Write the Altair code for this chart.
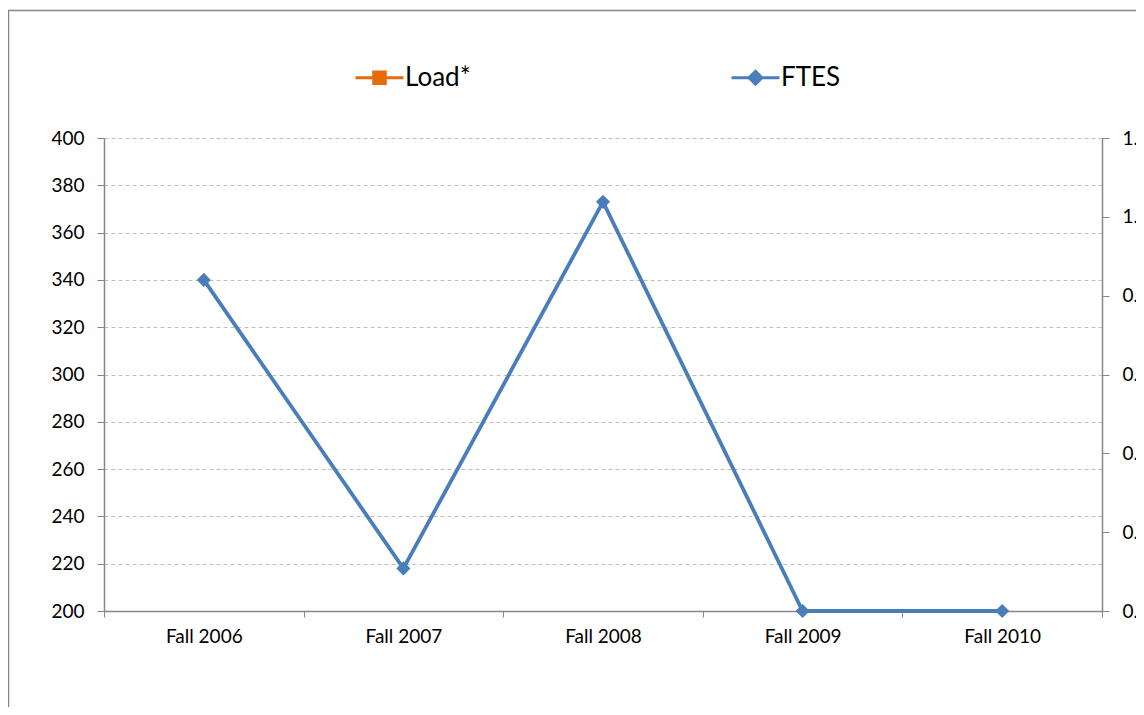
import altair as alt
import pandas as pd

periods = ["Fall 2006", "Fall 2007", "Fall 2008", "Fall 2009", "Fall 2010"]
ftes = [340, 218, 373, 200, 200]
load = [None, None, None, None, None]
series_names = ["Load*", "FTES"]
series_colors = ["#E46C0A", "#4A7EBB"]
left_ticks = [200, 220, 240, 260, 280, 300, 320, 340, 360, 380, 400]
right_ticks = [0.0, 0.2, 0.4, 0.6, 0.8, 1.0, 1.2]

ftes_df = pd.DataFrame({"period": periods, "series": ["FTES"] * 5, "value": ftes})
load_df = pd.DataFrame({"period": periods, "series": ["Load*"] * 5, "value": load})
legend_df = pd.DataFrame({"series": series_names})
frame_df = pd.DataFrame({"k": [0]})

FONT = "Lato"
GRAY = "#868686"

load_path = "M-1,0L1,0M-0.24,-0.24L0.24,-0.24L0.24,0.24L-0.24,0.24Z"
ftes_path = "M-1,0L1,0M0,-0.27L0.27,0L0,0.27L-0.27,0Z"

x_enc = alt.X(
    "period:N",
    sort=periods,
    scale=alt.Scale(type="band", paddingInner=0, paddingOuter=0),
    axis=alt.Axis(
        title=None, labelAngle=0, tickBand="extent", tickSize=6, labelPadding=10,
        labelFontSize=19, labelFont=FONT, labelColor="black",
        domainColor=GRAY, domainWidth=1.5, tickColor=GRAY, tickWidth=1, grid=False,
    ),
)

left_scale = alt.Scale(domain=[200, 400], nice=False, zero=False)

left_line = alt.Chart(ftes_df).mark_line(strokeWidth=3.8, color=series_colors[1]).encode(
    x=x_enc,
    y=alt.Y(
        "value:Q",
        scale=left_scale,
        axis=alt.Axis(
            title=None, orient="left", values=left_ticks, tickSize=7, labelPadding=13,
            labelFontSize=19, labelFont=FONT, labelColor="black",
            domainColor=GRAY, domainWidth=1.5, tickColor=GRAY,
            grid=True, gridDash=[4, 3], gridColor="#C0C0C0", gridWidth=1,
        ),
    ),
)

left_points = alt.Chart(ftes_df).mark_point(
    filled=True, shape="diamond", size=200, opacity=1, color=series_colors[1]
).encode(
    x=x_enc,
    y=alt.Y("value:Q", scale=left_scale, axis=None),
)

legend_props = dict(
    title=None, orient="none", legendX=250, legendY=-86, direction="horizontal",
    columns=2, columnPadding=254, labelOffset=0, labelFontSize=26, labelFont=FONT,
    labelColor="black", symbolSize=2304, symbolStrokeWidth=3, padding=0,
    symbolOpacity=1,
)

legend_layer = alt.Chart(legend_df).mark_point(filled=True, opacity=1).encode(
    fill=alt.Fill("series:N", scale=alt.Scale(domain=series_names, range=series_colors),
                  legend=alt.Legend(**legend_props)),
    stroke=alt.Stroke("series:N", scale=alt.Scale(domain=series_names, range=series_colors),
                      legend=alt.Legend(**legend_props)),
    shape=alt.Shape("series:N", scale=alt.Scale(domain=series_names, range=[load_path, ftes_path]),
                    legend=alt.Legend(**legend_props)),
).transform_filter("false")

right_line = alt.Chart(load_df).mark_line(strokeWidth=3.8, color=series_colors[0]).encode(
    x=x_enc,
    y=alt.Y(
        "value:Q",
        scale=alt.Scale(domain=[0, 1.2], nice=False),
        axis=alt.Axis(
            title=None, orient="right", values=right_ticks, format=".1f",
            tickSize=7, labelPadding=13, labelFontSize=19, labelFont=FONT,
            labelColor="black", domainColor=GRAY, domainWidth=1.5, tickColor=GRAY,
            grid=False,
        ),
    ),
)

frame = alt.Chart(frame_df).mark_rect(fill=None, stroke=GRAY, strokeWidth=1.5).encode(
    x=alt.value(-95.5), x2=alt.value(1300), y=alt.value(-127.5), y2=alt.value(800)
)

chart = alt.layer(frame, left_line, right_line, left_points, legend_layer).resolve_scale(
    y="independent"
).properties(
    width=998,
    height=473,
    padding={"left": 96, "top": 130, "right": 34, "bottom": 96},
    autosize="none",
    background="white",
).configure_view(stroke=None)

chart.save("out.html", embed_options={"renderer": "svg", "actions": False})
